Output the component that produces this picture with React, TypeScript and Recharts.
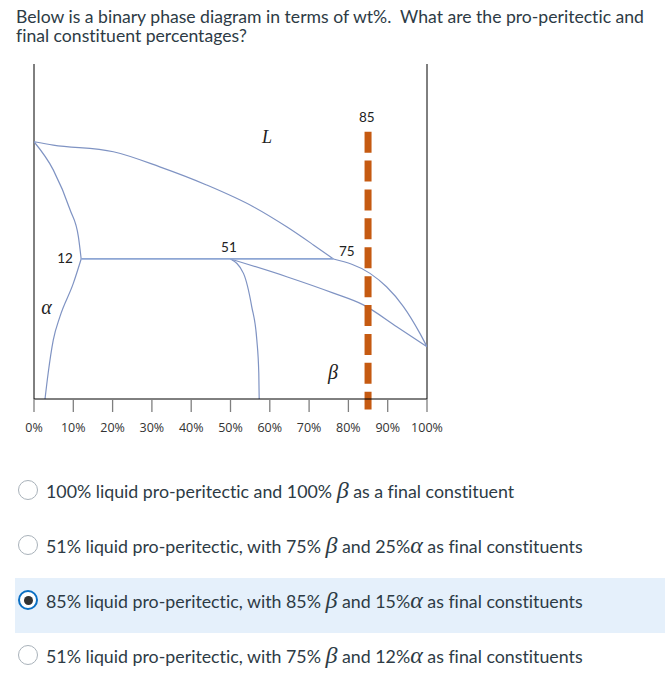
import { ComposedChart, Line, XAxis, YAxis, ReferenceLine, ReferenceDot } from "recharts";

// wt% on x, temperature (arbitrary 0-100) on y
const ticks = [0, 10, 20, 30, 40, 50, 60, 70, 80, 90, 100];

const liquidusLeft = [
  { x: 0, y: 76.8 },
  { x: 4.9, y: 75.8 },
  { x: 20.2, y: 73.8 },
  { x: 32, y: 69.3 },
  { x: 43.9, y: 63.9 },
  { x: 55.8, y: 57.4 },
  { x: 64.3, y: 51.4 },
  { x: 71.1, y: 46 },
  { x: 76.2, y: 41.8 },
];
const liquidusRight = [
  { x: 76.2, y: 41.8 },
  { x: 85.5, y: 37.5 },
  { x: 89.7, y: 33.5 },
  { x: 94, y: 27.6 },
  { x: 98.2, y: 19.6 },
  { x: 100, y: 15.6 },
];
const alphaSolidus = [
  { x: 0, y: 76.8 },
  { x: 4.9, y: 68.4 },
  { x: 9.2, y: 56.4 },
  { x: 11.3, y: 48.4 },
  { x: 12, y: 41.8 },
];
const alphaSolvus = [
  { x: 2.8, y: 0 },
  { x: 3.6, y: 7.7 },
  { x: 4.9, y: 17.6 },
  { x: 6.6, y: 24.6 },
  { x: 10, y: 34.5 },
  { x: 12, y: 41.8 },
];
const peritectic = [
  { x: 12, y: 41.8 },
  { x: 76.2, y: 41.8 },
];
const betaSolvus = [
  { x: 50, y: 41.8 },
  { x: 53.3, y: 37.5 },
  { x: 55.4, y: 27.6 },
  { x: 56.7, y: 17.6 },
  { x: 57.2, y: 7.7 },
  { x: 57.3, y: 0 },
];
const betaSolidus = [
  { x: 50, y: 41.8 },
  { x: 64.3, y: 36.5 },
  { x: 76.2, y: 31.6 },
  { x: 83.8, y: 28.1 },
  { x: 92.3, y: 21.6 },
  { x: 100, y: 15.6 },
];
const alloyLine = [
  { x: 85, y: 79.8 },
  { x: 85, y: -3.1 },
];

const numberLabels = [
  { x: 84.7, y: 84.2, text: "85" },
  { x: 49.6, y: 45.4, text: "51" },
  { x: 79.6, y: 44.2, text: "75" },
  { x: 7.9, y: 42.1, text: "12" },
];
const phaseLabels = [
  { x: 59.3, y: 78.2, text: "L", size: 18 },
  { x: 3.2, y: 27.6, text: "α", size: 20 },
  { x: 76.1, y: 8.1, text: "β", size: 20 },
];

const question =
  "Below is a binary phase diagram in terms of wt%.  What are the pro-peritectic and final constituent percentages?";

// each option: [text, greek, text, greek, text...]
const options = [
  ["100% liquid pro-peritectic and 100% ", "β", " as a final constituent"],
  ["51% liquid pro-peritectic, with 75% ", "β", " and 25%", "α", " as final constituents"],
  ["85% liquid pro-peritectic, with 85% ", "β", " and 15%", "α", " as final constituents"],
  ["51% liquid pro-peritectic, with 75% ", "β", " and 12%", "α", " as final constituents"],
];
const selected = 2;

const curve = "#7F93C3";
const serif = "'Liberation Serif', 'DejaVu Serif', serif";

function Radio({ on }: { on: boolean }) {
  if (on) {
    return (
      <div style={{ width: 20, height: 20, boxSizing: "border-box", borderRadius: "50%", border: "2.5px solid #0B6FC3", background: "#fff", display: "flex", alignItems: "center", justifyContent: "center", flexShrink: 0 }}>
        <div style={{ width: 9, height: 9, borderRadius: "50%", background: "#333" }} />
      </div>
    );
  }
  return <div style={{ width: 20, height: 20, boxSizing: "border-box", borderRadius: "50%", border: "1px solid #A9B2BA", background: "#fff", flexShrink: 0 }} />;
}

export default function App() {
  const curves = [liquidusLeft, liquidusRight, alphaSolidus, alphaSolvus, betaSolvus, betaSolidus];
  return (
    <div style={{ position: "absolute", left: 0, top: 0, width: 665, height: 690, background: "#fff", fontFamily: "Lato, sans-serif", color: "#2D3B45", fontVariantLigatures: "none" }}>
      <div style={{ position: "absolute", left: 16, top: 7, width: 648, fontSize: 17.6, lineHeight: "19px", whiteSpace: "pre-wrap" }}>{question}</div>

      <div style={{ position: "absolute", left: 0, top: 0 }}>
        <ComposedChart width={665} height={450} margin={{ top: 64, right: 238, left: 34, bottom: 21 }}>
          <XAxis
            type="number"
            dataKey="x"
            domain={[0, 100]}
            ticks={ticks}
            interval={0}
            allowDataOverflow
            tickFormatter={(v) => `${v}%`}
            axisLine={{ stroke: "#000", strokeWidth: 1 }}
            tickLine={{ stroke: "#7f7f7f", strokeWidth: 1.3 }}
            tickSize={13}
            tickMargin={11}
            height={30}
            tick={{ fill: "#333", fontSize: 12.5, fontFamily: "'Open Sans', sans-serif" }}
          />
          <YAxis type="number" domain={[0, 100]} allowDataOverflow hide />
          <ReferenceLine x={0} stroke="#000" strokeWidth={1} />
          <ReferenceLine x={100} stroke="#000" strokeWidth={1} />
          {curves.map((d, i) => (
            <Line key={i} data={d} dataKey="y" type="monotone" stroke={curve} strokeWidth={1.2} dot={false} isAnimationActive={false} />
          ))}
          <Line data={peritectic} dataKey="y" type="linear" stroke="#8EA6D4" strokeWidth={1.8} dot={false} isAnimationActive={false} />
          <ReferenceLine
            segment={alloyLine}
            stroke="#C55A11"
            strokeWidth={7}
            strokeDasharray="21 7.9"
            ifOverflow="visible"
          />
          {numberLabels.map((l) => (
            <ReferenceDot
              key={l.text}
              x={l.x}
              y={l.y}
              r={0}
              stroke="none"
              ifOverflow="visible"
              label={{ value: l.text, position: "center", fill: "#222", fontSize: 13.5, fontFamily: "Lato, sans-serif" }}
            />
          ))}
          {phaseLabels.map((l) => (
            <ReferenceDot
              key={l.text}
              x={l.x}
              y={l.y}
              r={0}
              stroke="none"
              ifOverflow="visible"
              label={{ value: l.text, position: "center", fill: "#222", fontSize: l.size, fontStyle: "italic", fontFamily: serif }}
            />
          ))}
        </ComposedChart>
      </div>

      <div style={{ position: "absolute", left: 15, top: 578, width: 650, height: 55, background: "#E5F0FB" }} />
      {options.map((parts, i) => (
        <div key={i} style={{ position: "absolute", left: 18, top: 491 + i * 55 - 15, height: 28, display: "flex", alignItems: "center", fontSize: 17.8, whiteSpace: "pre" }}>
          <Radio on={i === selected} />
          <span style={{ marginLeft: 8 }}>
            {parts.map((p, j) =>
              j % 2 === 1 ? (
                <span key={j} style={{ fontFamily: serif, fontStyle: "italic", fontSize: 24 }}>{p}</span>
              ) : (
                <span key={j}>{p}</span>
              )
            )}
          </span>
        </div>
      ))}
    </div>
  );
}
